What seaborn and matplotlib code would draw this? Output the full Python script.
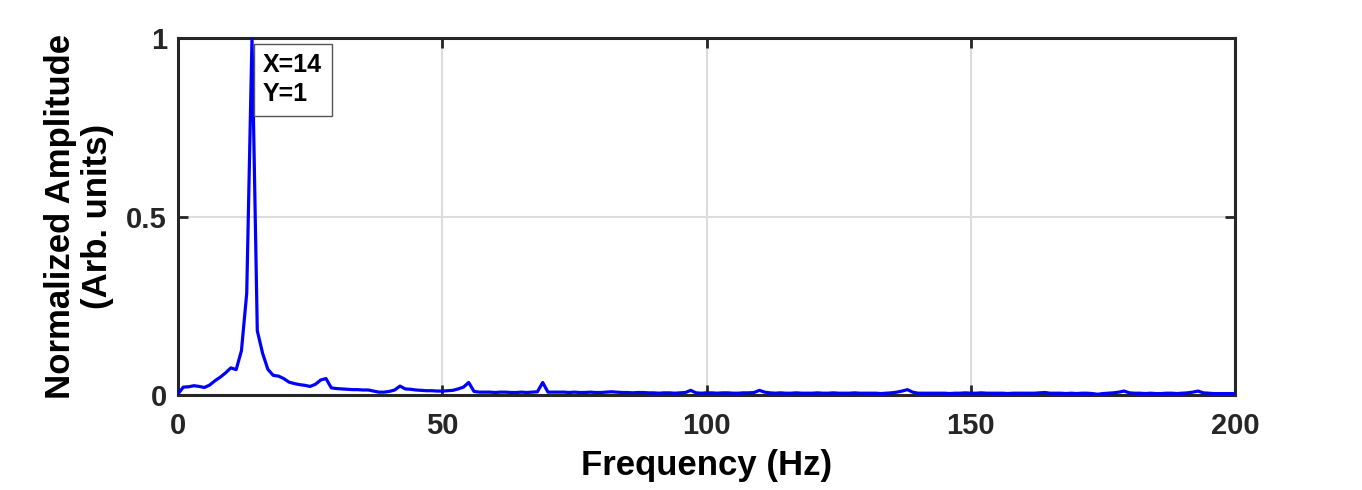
import numpy as np
import pandas as pd
import matplotlib
matplotlib.use("Agg")
import matplotlib.pyplot as plt
import seaborn as sns

# Frequency bins (Hz), 1 Hz resolution
freq_hz = list(range(0, 201))

# Normalized amplitude, one value per bin
amp_0_29 = [0.003, 0.022, 0.023, 0.026, 0.024, 0.021, 0.028, 0.040, 0.050, 0.062,
            0.076, 0.071, 0.124, 0.285, 1.000, 0.180, 0.117, 0.072, 0.055, 0.053,
            0.046, 0.036, 0.032, 0.029, 0.027, 0.024, 0.030, 0.042, 0.046, 0.020]
amp_30_59 = [0.018, 0.017, 0.016, 0.015, 0.015, 0.014, 0.014, 0.011, 0.008, 0.008,
             0.010, 0.014, 0.025, 0.017, 0.016, 0.014, 0.013, 0.012, 0.012, 0.011,
             0.011, 0.012, 0.013, 0.017, 0.022, 0.035, 0.010, 0.008, 0.008, 0.008]
amp_60_89 = [0.007, 0.008, 0.008, 0.007, 0.007, 0.008, 0.007, 0.008, 0.009, 0.035,
             0.008, 0.008, 0.008, 0.008, 0.007, 0.008, 0.007, 0.007, 0.008, 0.007,
             0.007, 0.008, 0.009, 0.008, 0.007, 0.007, 0.006, 0.007, 0.007, 0.006]
amp_90_119 = [0.006, 0.005, 0.006, 0.006, 0.005, 0.006, 0.007, 0.013, 0.006, 0.005,
              0.006, 0.006, 0.005, 0.006, 0.006, 0.005, 0.005, 0.006, 0.006, 0.007,
              0.013, 0.008, 0.006, 0.005, 0.006, 0.005, 0.005, 0.006, 0.005, 0.005]
amp_120_149 = [0.005, 0.006, 0.005, 0.005, 0.006, 0.005, 0.005, 0.005, 0.006, 0.005,
               0.005, 0.005, 0.005, 0.004, 0.005, 0.006, 0.008, 0.011, 0.015, 0.008,
               0.005, 0.005, 0.005, 0.005, 0.005, 0.005, 0.004, 0.005, 0.005, 0.006]
amp_150_179 = [0.005, 0.005, 0.006, 0.005, 0.005, 0.005, 0.005, 0.004, 0.005, 0.005,
               0.005, 0.005, 0.005, 0.006, 0.007, 0.005, 0.005, 0.005, 0.004, 0.005,
               0.004, 0.005, 0.005, 0.004, 0.002, 0.004, 0.005, 0.006, 0.008, 0.011]
amp_180_200 = [0.006, 0.005, 0.005, 0.004, 0.005, 0.004, 0.004, 0.005, 0.005, 0.004,
               0.005, 0.006, 0.008, 0.011, 0.006, 0.005, 0.004, 0.004, 0.004, 0.004,
               0.004]
amplitude = amp_0_29 + amp_30_59 + amp_60_89 + amp_90_119 + amp_120_149 + amp_150_179 + amp_180_200

x_ticks = [0, 50, 100, 150, 200]
y_ticks = [0, 0.5, 1]
y_tick_labels = ["0", "0.5", "1"]
x_label = "Frequency (Hz)"
y_label = "Normalized Amplitude\n(Arb. units)"
tip_x, tip_y = 14, 1

df = pd.DataFrame({"freq": freq_hz, "amp": amplitude})

sns.set_theme(style="white")
plt.rcParams['font.family'] = ['Liberation Sans', 'DejaVu Sans']
plt.rcParams['font.weight'] = 'bold'

fig = plt.figure(figsize=(13.62, 4.90), dpi=100)
ax = fig.add_axes([0.1307, 0.1939, 0.7761, 0.7285])

sns.lineplot(data=df, x="freq", y="amp", ax=ax, color=(0, 0, 1), linewidth=2.3, zorder=3)

ax.set_xlim(0, 200)
ax.set_ylim(0, 1)
ax.set_xticks(x_ticks)
ax.set_xticklabels([str(v) for v in x_ticks], fontsize=21, fontweight='bold', color='#262626')
ax.set_yticks(y_ticks)
ax.set_yticklabels(y_tick_labels, fontsize=21, fontweight='bold', color='#262626')
ax.grid(True, color='#dcdcdc', linewidth=1.5, zorder=0)
ax.set_axisbelow(True)
ax.tick_params(direction='in', length=7, width=2, color='#262626',
               top=True, right=True, bottom=True, left=True)
ax.tick_params(axis='x', pad=12)
ax.tick_params(axis='y', pad=8)
for s in ax.spines.values():
    s.set_color('#262626')
    s.set_linewidth(2.2)
    s.set_visible(True)

ax.set_xlabel(x_label, fontsize=25, fontweight='bold', color='black', labelpad=7)
ax.set_ylabel(y_label, fontsize=25, fontweight='bold', color='black', labelpad=9,
              linespacing=1.15)

ax.annotate(f"X={tip_x}\nY={tip_y}", xy=(tip_x, tip_y), xytext=(8, -11),
            textcoords='offset points', ha='left', va='top',
            fontsize=18, fontweight='bold', color='black', linespacing=1.25,
            bbox=dict(boxstyle='square,pad=0.38', fc='white', ec='#555555', lw=1),
            zorder=5, annotation_clip=False)

fig.savefig("out.png", dpi=100)
